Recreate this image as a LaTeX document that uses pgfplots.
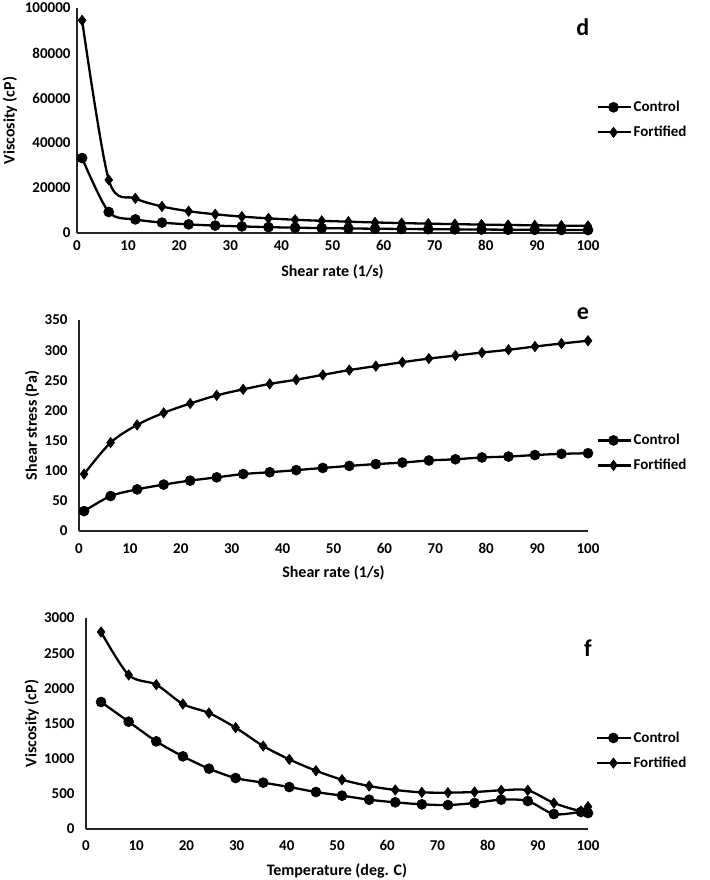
\documentclass[border=0pt]{standalone}
\usepackage{fontspec}
\setmainfont{Carlito}
\usepackage{pgfplots}
\pgfplotsset{compat=1.18}
\begin{document}
\begin{tikzpicture}
\useasboundingbox (0pt,0pt) rectangle (709pt,-880pt);
\pgfplotsset{
 panel/.style={
  scale only axis, anchor=south west,
  axis lines*=left, axis line style={line width=1.3pt, black!85},
  xmin=0,xmax=100, xtick={0,10,...,100},
  major tick length=0pt,
  clip=false,
  tick label style={font=\bfseries\fontsize{15}{17}\selectfont},
  /pgf/number format/assume math mode=true,
  label style={font=\bfseries\fontsize{16}{19}\selectfont},
  yticklabel style={/pgf/number format/fixed, /pgf/number format/1000 sep={}},
  scaled y ticks=false,
  legend style={draw=none, fill=none, font=\bfseries\fontsize{15}{17}\selectfont, anchor=west, row sep=9pt, inner sep=0pt},
  legend cell align=left,
  legend image code/.code={\draw[mark repeat=2,mark phase=2] plot coordinates {(0pt,0pt) (16pt,0pt) (33pt,0pt)};},
  every axis plot/.append style={line width=2.3pt, black, smooth, tension=0.5},
 },
 ctrl/.style={mark=*, mark size=5pt, mark options={solid, line width=0.6pt}},
 fort/.style={mark=diamond*, mark size=5.2pt, mark options={solid, line width=0.6pt}},
}
% ---------- panel d ----------
\begin{axis}[panel, at={(77pt,-233pt)}, width=511pt, height=225pt,
  ymin=0, ymax=100000, ytick={0,20000,...,100000},
  xticklabel style={yshift=-4pt},
  yticklabel style={xshift=-3pt},
  xlabel={Shear rate (1/s)}, ylabel={Viscosity (cP)},
  xlabel style={at={(axis description cs:0.5,-0.173)}, anchor=center},
  ylabel style={at={(axis description cs:-0.131,0.5)}, anchor=center},
  legend style={at={(1.016,0.503)}}]
\addplot[ctrl] coordinates {(1,33300) (6.21,9340) (11.42,6040) (16.63,4630) (21.84,3830) (27.05,3290) (32.26,2930) (37.47,2600) (42.68,2370) (47.89,2180) (53.11,2030) (58.32,1900) (63.53,1790) (68.74,1700) (73.95,1610) (79.16,1540) (84.37,1460) (89.58,1410) (94.79,1350) (100,1290)};
\addlegendentry{Control}
\addplot[fort] coordinates {(1,94500) (6.21,23600) (11.42,15400) (16.63,11800) (21.84,9680) (27.05,8320) (32.26,7280) (37.47,6510) (42.68,5880) (47.89,5410) (53.11,5030) (58.32,4690) (63.53,4410) (68.74,4160) (73.95,3940) (79.16,3740) (84.37,3560) (89.58,3420) (94.79,3280) (100,3160)};
\addlegendentry{Fortified}
\node[font=\bfseries\fontsize{24}{28}\selectfont] at (rel axis cs:0.99,0.915) {d};
\end{axis}
% ---------- panel e ----------
\begin{axis}[panel, at={(79pt,-531pt)}, width=509pt, height=211pt,
  ymin=0, ymax=350, ytick={0,50,...,350},
  xticklabel style={yshift=-9pt},
  yticklabel style={xshift=-8pt},
  xlabel={Shear rate (1/s)}, ylabel={Shear stress (Pa)},
  xlabel style={at={(axis description cs:0.5,-0.199)}, anchor=center},
  ylabel style={at={(axis description cs:-0.092,0.5)}, anchor=center},
  legend style={at={(1.016,0.370)}}]
\addplot[ctrl] coordinates {(1,33) (6.21,58) (11.42,69) (16.63,77) (21.84,83.6) (27.05,89) (32.26,94.5) (37.47,97.5) (42.68,101) (47.89,104.6) (53.11,108) (58.32,111) (63.53,113.5) (68.74,117) (73.95,119) (79.16,122) (84.37,123.5) (89.58,126) (94.79,128) (100,129)};
\addlegendentry{Control}
\addplot[fort] coordinates {(1,94.5) (6.21,146.7) (11.42,176) (16.63,196) (21.84,211.5) (27.05,225) (32.26,235) (37.47,244) (42.68,251) (47.89,259) (53.11,267) (58.32,273.5) (63.53,280) (68.74,286) (73.95,291) (79.16,296) (84.37,300.6) (89.58,306) (94.79,311) (100,315.6)};
\addlegendentry{Fortified}
\node[font=\bfseries\fontsize{24}{28}\selectfont] at (rel axis cs:0.99,1.028) {e};
\end{axis}
% ---------- panel f ----------
\begin{axis}[panel, at={(86pt,-829pt)}, width=502pt, height=211pt,
  ymin=0, ymax=3000, ytick={0,500,...,3000},
  xticklabel style={yshift=-8pt},
  yticklabel style={xshift=-8pt},
  xlabel={Temperature (deg. C)}, ylabel={Viscosity (cP)},
  xlabel style={at={(axis description cs:0.5,-0.199)}, anchor=center},
  ylabel style={at={(axis description cs:-0.108,0.5)}, anchor=center},
  legend style={at={(1.016,0.372)}}]
\addplot[ctrl] coordinates {(3,1806) (8.5,1526) (14,1246) (19.3,1033) (24.5,858) (29.8,725) (35.3,659) (40.5,597) (45.8,526) (51,474) (56.4,417) (61.6,379) (66.9,351) (72.1,341) (77.4,370) (82.7,417) (88,398) (93.2,213) (98.6,242) (100,227)};
\addlegendentry{Control}
\addplot[fort] coordinates {(3,2801) (8.5,2190) (14,2052) (19.3,1777) (24.5,1649) (29.8,1441) (35.3,1180) (40.5,990) (45.8,829) (51,701) (56.4,611) (61.6,555) (66.9,521) (72.1,517) (77.4,526) (82.7,550) (88,550) (93.2,370) (98.6,256) (100,318)};
\addlegendentry{Fortified}
\node[font=\bfseries\fontsize{24}{28}\selectfont] at (rel axis cs:1.0,0.858) {f};
\end{axis}
\end{tikzpicture}
\end{document}
